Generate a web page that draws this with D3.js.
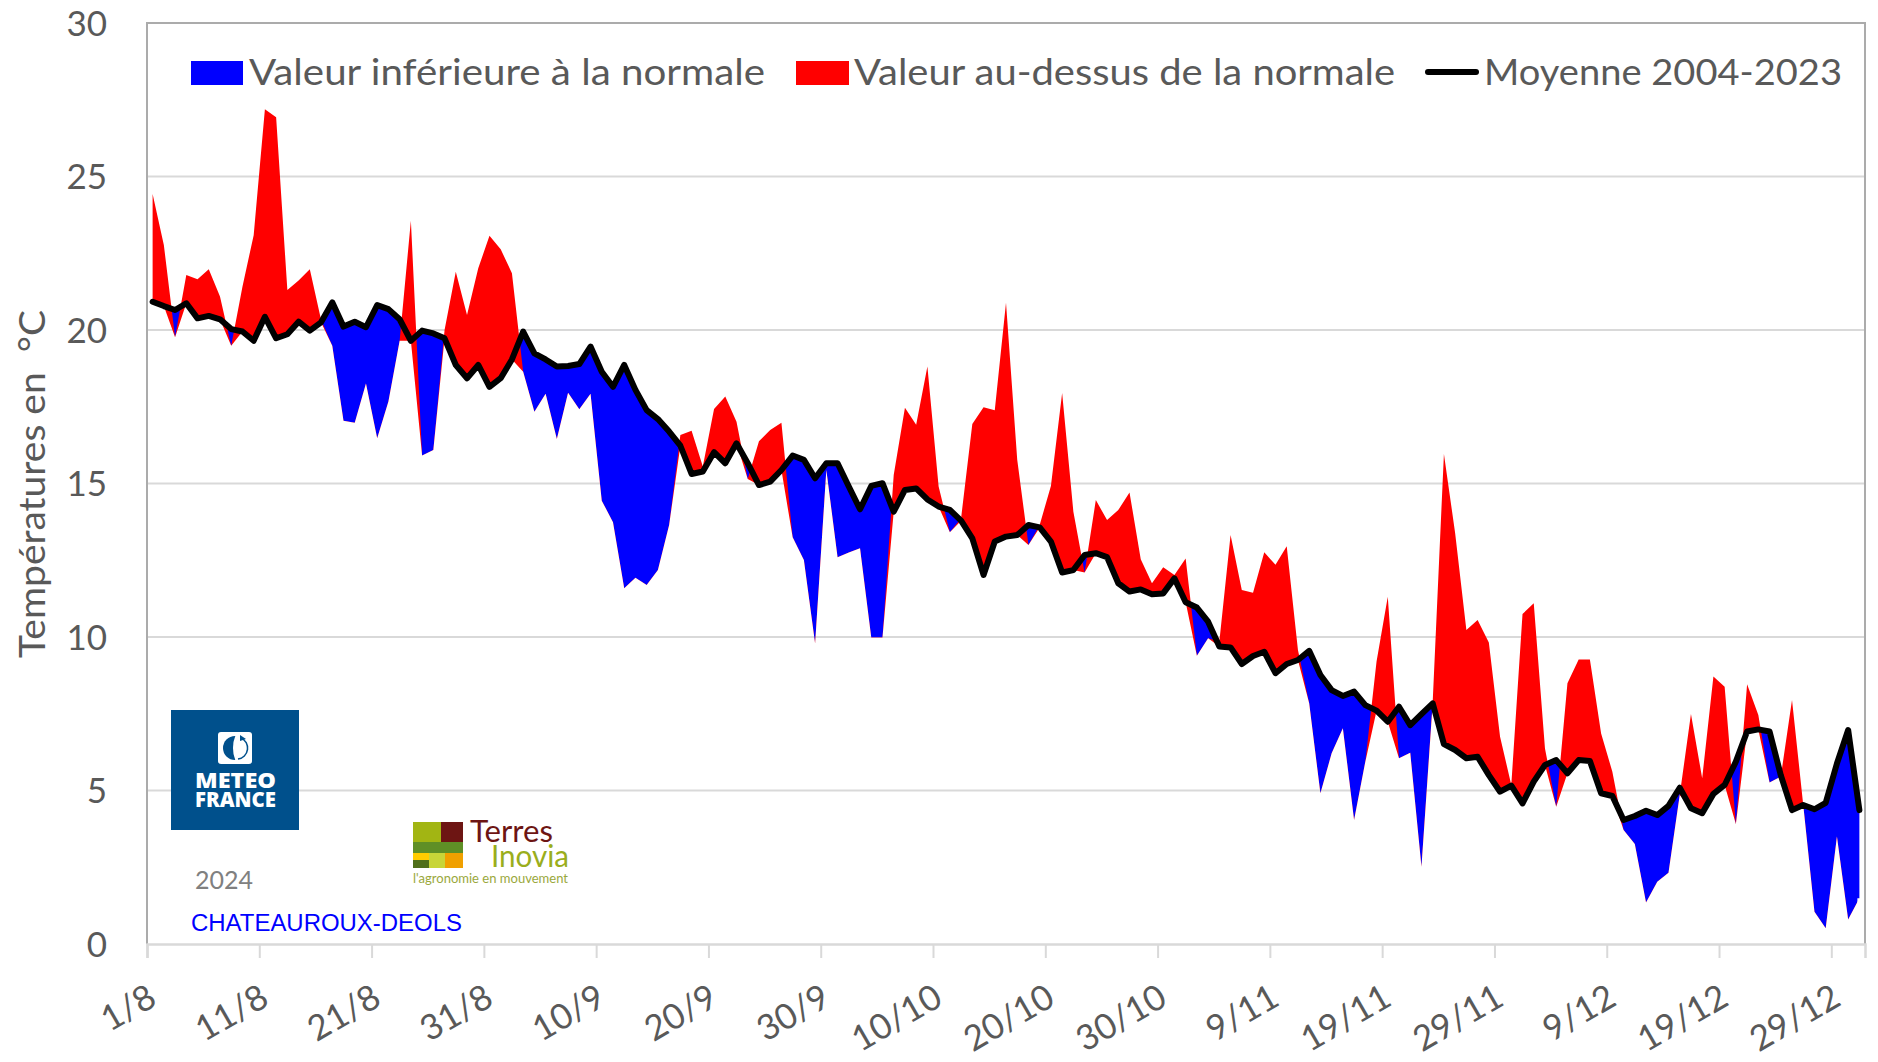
<!DOCTYPE html>
<html>
<head>
<meta charset="utf-8">
<script src="https://cdn.jsdelivr.net/npm/d3@7"></script>
<style>
  html, body { margin: 0; padding: 0; background: #fff; }
  svg { display: block; }
  text { font-family: Lato, "Open Sans", sans-serif; fill: #595959; }
  .axis text { font-size: 35px; }
  .legend text { font-size: 37px; }
</style>
</head>
<body>
<svg id="chart" width="1878" height="1062"></svg>
<script>
// Daily value, 1/8 to 31/12
const values = [
  24.43,22.77,19.76,21.79,21.65,21.98,21.09,19.49,21.41,23.09,27.19,26.93,21.30,21.61,21.98,20.33,19.49,17.04,16.98,18.26,
  16.47,17.67,19.65,23.56,15.91,16.09,20.00,21.90,20.49,22.01,23.07,22.63,21.85,18.64,17.34,17.92,16.45,17.96,17.42,17.92,
  14.44,13.74,11.59,11.93,11.69,12.18,13.65,16.58,16.72,15.55,17.43,17.83,17.01,15.15,16.38,16.74,16.98,13.25,12.51,9.79,
  15.44,12.60,12.75,12.89,9.98,9.98,15.28,17.47,16.91,18.81,14.90,13.41,13.87,16.94,17.48,17.39,20.89,15.77,13.00,13.65,
  14.92,17.95,14.08,12.10,14.46,13.81,14.14,14.71,12.53,11.75,12.27,12.02,12.56,9.39,9.96,9.85,13.32,11.53,11.44,12.76,
  12.35,12.96,9.58,7.84,4.91,6.21,7.03,4.04,5.94,9.20,11.31,6.05,6.23,2.52,7.89,15.96,13.38,10.23,10.55,9.82,
  6.75,5.18,10.75,11.10,6.37,4.47,8.49,9.27,9.27,6.86,5.61,3.71,3.26,1.35,2.03,2.32,4.85,7.49,5.40,8.71,
  8.38,3.91,8.46,7.46,5.26,5.45,7.95,4.53,1.05,0.51,3.50,0.80,1.49
];

// Moyenne 2004-2023
const normals = [
  20.92,20.78,20.65,20.87,20.38,20.46,20.35,20.03,19.95,19.65,20.43,19.73,19.86,20.27,19.98,20.25,20.90,20.11,20.27,20.09,
  20.81,20.68,20.35,19.65,19.98,19.89,19.73,18.86,18.43,18.86,18.15,18.43,19.04,19.95,19.24,19.04,18.81,18.83,18.89,19.46,
  18.64,18.15,18.86,18.05,17.39,17.10,16.69,16.23,15.31,15.39,16.02,15.66,16.31,15.66,14.95,15.06,15.44,15.91,15.77,15.17,
  15.66,15.66,14.90,14.16,14.92,15.01,14.08,14.79,14.84,14.48,14.25,14.14,13.79,13.21,12.02,13.11,13.27,13.32,13.65,13.57,
  13.11,12.10,12.18,12.67,12.73,12.60,11.75,11.48,11.55,11.39,11.42,11.91,11.13,10.96,10.50,9.69,9.66,9.12,9.38,9.52,
  8.82,9.12,9.25,9.55,8.76,8.27,8.08,8.22,7.78,7.60,7.24,7.73,7.13,7.49,7.84,6.51,6.32,6.05,6.10,5.50,
  4.96,5.16,4.58,5.29,5.83,5.99,5.56,5.99,5.96,4.91,4.82,4.04,4.17,4.34,4.20,4.50,5.09,4.42,4.26,4.89,
  5.18,5.94,6.92,6.99,6.92,5.50,4.36,4.53,4.39,4.60,5.88,6.97,4.36
];

const xLabels = ['1/8','11/8','21/8','31/8','10/9','20/9','30/9','10/10','20/10','30/10','9/11','19/11','29/11','9/12','19/12','29/12'];
const yTicks = [0, 5, 10, 15, 20, 25, 30];

const margin = {top: 23, right: 13, bottom: 118, left: 147};
const width = 1878, height = 1062;

const svg = d3.select('#chart');

const xScale = d3.scaleLinear()
    .domain([0, values.length])
    .range([margin.left, width - margin.right]);

const yScale = d3.scaleLinear()
    .domain([0, 30])
    .range([height - margin.bottom, margin.top]);

const px = i => xScale(i + 0.5);   // points sit in the middle of their day

// Gridlines
svg.append('g')
    .selectAll('line')
    .data(yTicks.slice(1, -1))
    .join('line')
    .attr('x1', margin.left)
    .attr('x2', width - margin.right)
    .attr('y1', d => yScale(d))
    .attr('y2', d => yScale(d))
    .attr('stroke', '#d9d9d9')
    .attr('stroke-width', 2);

// Filled bands: blue under the normal, red under the value, and everything
// under the lower of the two masked out, so the grid stays visible below
const days = d3.range(values.length);
const lower = days.map(i => Math.min(values[i], normals[i]));

const bandArea = series => d3.area()
    .x(i => px(i))
    .y0(yScale(0))
    .y1(i => yScale(series[i]))(days);

const mask = svg.append('defs').append('mask')
    .attr('id', 'under')
    .attr('maskUnits', 'userSpaceOnUse')
    .attr('x', 0).attr('y', 0)
    .attr('width', width).attr('height', height);
mask.append('rect').attr('width', width).attr('height', height).attr('fill', '#fff');
mask.append('path').attr('d', bandArea(lower)).attr('fill', '#000');
// the two end columns, otherwise their soft edge leaves a thin line
[0, values.length - 1].forEach(i => {
  mask.append('rect')
      .attr('x', px(i) - 2)
      .attr('width', 4)
      .attr('y', yScale(lower[i]))
      .attr('height', yScale(0) - yScale(lower[i]))
      .attr('fill', '#000');
});

const bands = svg.append('g').attr('mask', 'url(#under)');
bands.append('path').attr('d', bandArea(normals)).attr('fill', '#0000ff');
bands.append('path').attr('d', bandArea(values)).attr('fill', '#ff0000');

// Frame
svg.append('path')
    .attr('d', `M${margin.left},${yScale(0)}V${margin.top}H${width - margin.right}V${yScale(0)}`)
    .attr('fill', 'none')
    .attr('stroke', '#ababab')
    .attr('stroke-width', 2);

// Axes
const xAxis = d3.axisBottom(xScale)
    .tickValues(xLabels.map((d, i) => i * 10))
    .tickSize(14)
    .tickPadding(0)
    .tickFormat((d, i) => xLabels[i]);

const xAxisG = svg.append('g')
    .attr('class', 'axis x-axis')
    .attr('transform', `translate(0,${yScale(0)})`)
    .call(xAxis);
xAxisG.select('.domain').attr('stroke', '#d9d9d9').attr('stroke-width', 2.5);
xAxisG.selectAll('.tick line').attr('stroke', '#d9d9d9').attr('stroke-width', 2);
xAxisG.selectAll('.tick text')
    .attr('text-anchor', 'end')
    .attr('y', 0)
    .attr('dy', 0)
    .attr('transform', 'translate(11,60) rotate(-30)');

const yAxis = d3.axisLeft(yScale)
    .tickValues(yTicks)
    .tickSize(0)
    .tickPadding(40);

const yAxisG = svg.append('g')
    .attr('class', 'axis y-axis')
    .attr('transform', `translate(${margin.left},0)`)
    .call(yAxis);
yAxisG.select('.domain').remove();
yAxisG.selectAll('.tick text').attr('dy', '0.35em');

// Normal line on top
svg.append('path')
    .attr('d', d3.line().x(i => px(i)).y(i => yScale(normals[i]))(days))
    .attr('fill', 'none')
    .attr('stroke', '#000')
    .attr('stroke-width', 6)
    .attr('stroke-linejoin', 'round')
    .attr('stroke-linecap', 'round');

// Axis title
svg.append('text')
    .attr('transform', 'translate(45,658) rotate(-90)')
    .attr('font-size', 37)
    .attr('textLength', 348)
    .attr('lengthAdjust', 'spacingAndGlyphs')
    .style('white-space', 'pre')
    .text('Températures en  °C');

// Legend
const legend = svg.append('g').attr('class', 'legend');
legend.append('rect').attr('x', 191).attr('y', 61).attr('width', 52).attr('height', 24).attr('fill', '#0000ff');
legend.append('rect').attr('x', 796).attr('y', 61).attr('width', 53).attr('height', 24).attr('fill', '#ff0000');
legend.append('line')
    .attr('x1', 1428).attr('x2', 1476).attr('y1', 72).attr('y2', 72)
    .attr('stroke', '#000').attr('stroke-width', 6).attr('stroke-linecap', 'round');
legend.append('text').attr('x', 249).attr('y', 85)
    .attr('textLength', 516).attr('lengthAdjust', 'spacingAndGlyphs')
    .text('Valeur inférieure à la normale');
legend.append('text').attr('x', 854).attr('y', 85)
    .attr('textLength', 541).attr('lengthAdjust', 'spacingAndGlyphs')
    .text('Valeur au-dessus de la normale');
legend.append('text').attr('x', 1484).attr('y', 85)
    .attr('textLength', 358).attr('lengthAdjust', 'spacingAndGlyphs')
    .text('Moyenne 2004-2023');

// Meteo France logo
const mf = svg.append('g');
mf.append('rect').attr('x', 171).attr('y', 710).attr('width', 128).attr('height', 120).attr('fill', '#00508c');
mf.append('rect').attr('x', 218).attr('y', 732).attr('width', 34).attr('height', 32).attr('rx', 3).attr('fill', '#fff');
mf.append('circle').attr('cx', 235).attr('cy', 748).attr('r', 12).attr('fill', '#00508c');
mf.append('ellipse').attr('cx', 240).attr('cy', 748).attr('rx', 7).attr('ry', 16).attr('fill', '#fff');
mf.append('path').attr('d', 'M241,738A11,11 0 0 1 238,759').attr('fill', 'none').attr('stroke', '#00508c').attr('stroke-width', 1.5);
mf.append('path').attr('d', 'M240,735L246,739L240,741Z').attr('fill', '#00508c');
mf.append('text').attr('x', 195).attr('y', 788).attr('font-size', 21).attr('font-weight', 800)
    .attr('textLength', 81).attr('lengthAdjust', 'spacingAndGlyphs')
    .style('fill', '#fff').style('font-family', '"Open Sans"').text('METEO');
mf.append('text').attr('x', 195).attr('y', 807).attr('font-size', 21).attr('font-weight', 800)
    .attr('textLength', 81).attr('lengthAdjust', 'spacingAndGlyphs')
    .style('fill', '#fff').style('font-family', '"Open Sans"').text('FRANCE');

// Terres Inovia logo
const ti = svg.append('g');
const tiBlocks = [
  [413, 822, 28, 20, '#a2b513'], [441, 822, 22, 20, '#6d1513'],
  [413, 842, 50, 11, '#5f8f26'], [413, 853, 16, 7, '#ffcc00'],
  [413, 860, 16, 8, '#4f6f1a'], [429, 853, 16, 15, '#c8d538'],
  [445, 853, 18, 15, '#f0a000']
];
ti.selectAll('rect').data(tiBlocks).join('rect')
    .attr('x', d => d[0]).attr('y', d => d[1])
    .attr('width', d => d[2]).attr('height', d => d[3])
    .attr('fill', d => d[4]);
ti.append('text').attr('x', 470).attr('y', 842).attr('font-size', 30)
    .attr('textLength', 83).attr('lengthAdjust', 'spacingAndGlyphs')
    .style('fill', '#6d1513').text('Terres');
ti.append('text').attr('x', 491).attr('y', 867).attr('font-size', 30)
    .attr('textLength', 78).attr('lengthAdjust', 'spacingAndGlyphs')
    .style('fill', '#9aae1c').text('Inovia');
ti.append('text').attr('x', 413).attr('y', 883).attr('font-size', 13)
    .attr('textLength', 155).attr('lengthAdjust', 'spacingAndGlyphs')
    .style('fill', '#9aa83c').text("l'agronomie en mouvement");

// Year and station
svg.append('text').attr('x', 195).attr('y', 889).attr('font-size', 25)
    .style('fill', '#808080').text('2024');
svg.append('text').attr('x', 191).attr('y', 931).attr('font-size', 23)
    .attr('textLength', 271).attr('lengthAdjust', 'spacingAndGlyphs')
    .style('fill', '#0000ff').style('font-family', '"Liberation Sans"').text('CHATEAUROUX-DEOLS');
</script>
</body>
</html>
